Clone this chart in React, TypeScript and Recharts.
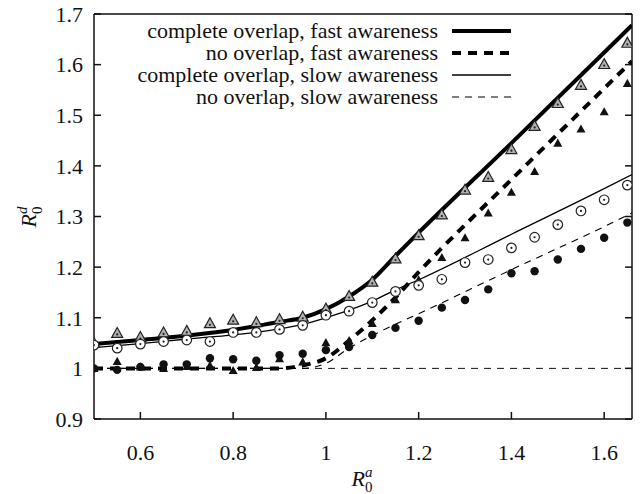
import { ComposedChart, Line, Scatter, XAxis, YAxis, ReferenceLine } from "recharts";

// curves: knot positions along R0^a
const lineX = [0.5, 0.6, 0.7, 0.8, 0.9, 0.95, 1.0, 1.05, 1.1, 1.15, 1.2, 1.4, 1.6, 1.66];
const completeFast = [1.048, 1.056, 1.065, 1.076, 1.092, 1.1, 1.117, 1.142, 1.175, 1.222, 1.268, 1.445, 1.624, 1.678];
const noneFast = [1.0, 1.0, 1.0, 1.0, 1.0, 1.006, 1.02, 1.055, 1.095, 1.14, 1.19, 1.373, 1.553, 1.607];
const completeSlow = [1.041, 1.049, 1.058, 1.066, 1.078, 1.087, 1.1, 1.115, 1.133, 1.155, 1.175, 1.265, 1.355, 1.383];
const noneSlow = [1.0, 1.0, 1.0, 1.0, 1.0, 1.0, 1.01, 1.04, 1.065, 1.087, 1.108, 1.195, 1.28, 1.307];

// simulation points
const simX = [0.5, 0.55, 0.6, 0.65, 0.7, 0.75, 0.8, 0.85, 0.9, 0.95, 1.0, 1.05, 1.1, 1.15, 1.2, 1.25, 1.3, 1.35, 1.4, 1.45, 1.5, 1.55, 1.6, 1.65];
const simCompleteFast = [1.05, 1.07, 1.062, 1.071, 1.074, 1.089, 1.096, 1.091, 1.097, 1.102, 1.118, 1.143, 1.171, 1.217, 1.263, 1.304, 1.353, 1.378, 1.433, 1.479, 1.524, 1.56, 1.601, 1.643];
const simNoneFast = [1.0, 1.014, 1.003, 1.0, 1.004, 1.006, 0.996, 1.002, 1.019, 1.013, 1.051, 1.055, 1.089, 1.136, 1.175, 1.219, 1.258, 1.307, 1.348, 1.389, 1.445, 1.473, 1.507, 1.563];
const simCompleteSlow = [1.046, 1.04, 1.048, 1.053, 1.056, 1.053, 1.071, 1.071, 1.077, 1.085, 1.105, 1.113, 1.13, 1.152, 1.164, 1.176, 1.209, 1.215, 1.238, 1.259, 1.284, 1.311, 1.333, 1.362];
const simNoneSlow = [1.0, 0.997, 1.003, 1.008, 1.008, 1.02, 1.018, 1.015, 1.026, 1.029, 1.036, 1.042, 1.066, 1.08, 1.094, 1.12, 1.135, 1.156, 1.188, 1.192, 1.215, 1.236, 1.258, 1.288];

const xTicks = [0.6, 0.8, 1, 1.2, 1.4, 1.6];
const yTicks = [0.9, 1, 1.1, 1.2, 1.3, 1.4, 1.5, 1.6, 1.7];

const FONT = "Liberation Serif";

const toPts = (xs: number[], ys: number[]) => xs.map((x, i) => ({ x, y: ys[i] }));

const OpenTriangle = (p: any) => {
  const { cx, cy } = p;
  const s = 5.5;
  return (
    <g>
      <polygon
        points={`${cx},${cy - s} ${cx + s},${cy + s * 0.8} ${cx - s},${cy + s * 0.8}`}
        fill="#b0b0b0"
        stroke="#222"
        strokeWidth={1.2}
      />
      <circle cx={cx} cy={cy + 1.5} r={1.1} fill="#222" />
    </g>
  );
};

const FilledTriangle = (p: any) => {
  const { cx, cy } = p;
  const s = 4.5;
  return <polygon points={`${cx},${cy - s} ${cx + s},${cy + s * 0.8} ${cx - s},${cy + s * 0.8}`} fill="#111" />;
};

const OpenCircle = (p: any) => (
  <g>
    <circle cx={p.cx} cy={p.cy} r={4.8} fill="#fff" stroke="#222" strokeWidth={1.2} />
    <circle cx={p.cx} cy={p.cy} r={1.1} fill="#222" />
  </g>
);

const FilledCircle = (p: any) => <circle cx={p.cx} cy={p.cy} r={4.2} fill="#111" />;

const series = [
  { name: "complete overlap, fast awareness", line: completeFast, sim: simCompleteFast, width: 4, dash: undefined, shape: OpenTriangle },
  { name: "no overlap, fast awareness", line: noneFast, sim: simNoneFast, width: 4, dash: "9 7", shape: FilledTriangle },
  { name: "complete overlap, slow awareness", line: completeSlow, sim: simCompleteSlow, width: 1.3, dash: undefined, shape: OpenCircle },
  { name: "no overlap, slow awareness", line: noneSlow, sim: simNoneSlow, width: 1.1, dash: "7 6", shape: FilledCircle },
];

function RLabel({ x, y, sup, rotate }: { x: number; y: number; sup: string; rotate?: boolean }) {
  return (
    <text
      x={x}
      y={y}
      textAnchor="middle"
      fontFamily={FONT}
      fontSize={22}
      fill="#111"
      transform={rotate ? `rotate(-90 ${x} ${y})` : undefined}
    >
      <tspan fontStyle="italic">R</tspan>
      <tspan fontSize={15} dy={6}>0</tspan>
      <tspan fontSize={15} fontStyle="italic" dx={-7.5} dy={-15}>{sup}</tspan>
    </text>
  );
}

export default function App() {
  const axisStyle = { fontFamily: FONT, fontSize: 22, fill: "#111" };
  return (
    <div style={{ position: "absolute", left: 0, top: 0, width: 640, height: 494, background: "#fff", fontFamily: FONT }}>
      <ComposedChart width={640} height={494} margin={{ top: 0, right: 0, bottom: 74, left: 0 }}>
        <XAxis
          xAxisId={0}
          dataKey="x"
          type="number"
          domain={[0.5, 1.66]}
          ticks={xTicks}
          allowDataOverflow
          tickSize={-7}
          tickMargin={32}
          tick={axisStyle}
          stroke="#111"
          strokeWidth={1.5}
          height={1}
        />
        <XAxis
          xAxisId="top"
          orientation="top"
          type="number"
          domain={[0.5, 1.66]}
          ticks={xTicks}
          allowDataOverflow
          tickSize={-7}
          tickFormatter={() => ""}
          stroke="#111"
          strokeWidth={1.5}
          height={14}
        />
        <YAxis
          yAxisId={0}
          type="number"
          domain={[0.9, 1.7]}
          ticks={yTicks}
          allowDataOverflow
          tickSize={-7}
          tickMargin={18}
          tick={axisStyle}
          stroke="#111"
          strokeWidth={1.5}
          width={94}
        />
        <YAxis
          yAxisId="right"
          orientation="right"
          type="number"
          domain={[0.9, 1.7]}
          ticks={yTicks}
          allowDataOverflow
          tickSize={-7}
          tickFormatter={() => ""}
          stroke="#111"
          strokeWidth={1.5}
          width={8}
        />
        <ReferenceLine y={1} stroke="#111" strokeWidth={1} strokeDasharray="7 6" />
        {series.map((s) => (
          <Line
            key={s.name}
            data={toPts(lineX, s.line)}
            dataKey="y"
            type="monotone"
            stroke="#000"
            strokeWidth={s.width}
            strokeDasharray={s.dash}
            dot={false}
            isAnimationActive={false}
          />
        ))}
        {series.map((s) => (
          <Scatter
            key={s.name + "-sim"}
            data={toPts(simX, s.sim)}
            dataKey="y"
            shape={s.shape}
            isAnimationActive={false}
          />
        ))}
      </ComposedChart>
      <svg
        width={640}
        height={494}
        style={{ position: "absolute", left: 0, top: 0, pointerEvents: "none" }}
      >
        {series.map((s, i) => {
          const y = 31 + i * 22;
          return (
            <g key={s.name}>
              <text x={438} y={y} dy="0.33em" textAnchor="end" fontFamily={FONT} fontSize={22} fill="#111">
                {s.name}
              </text>
              <line x1={452} x2={511} y1={y} y2={y} stroke="#000" strokeWidth={s.width} strokeDasharray={s.dash} />
            </g>
          );
        })}
        <RLabel x={362} y={486} sup="a" />
        <RLabel x={36} y={217} sup="d" rotate />
      </svg>
    </div>
  );
}
